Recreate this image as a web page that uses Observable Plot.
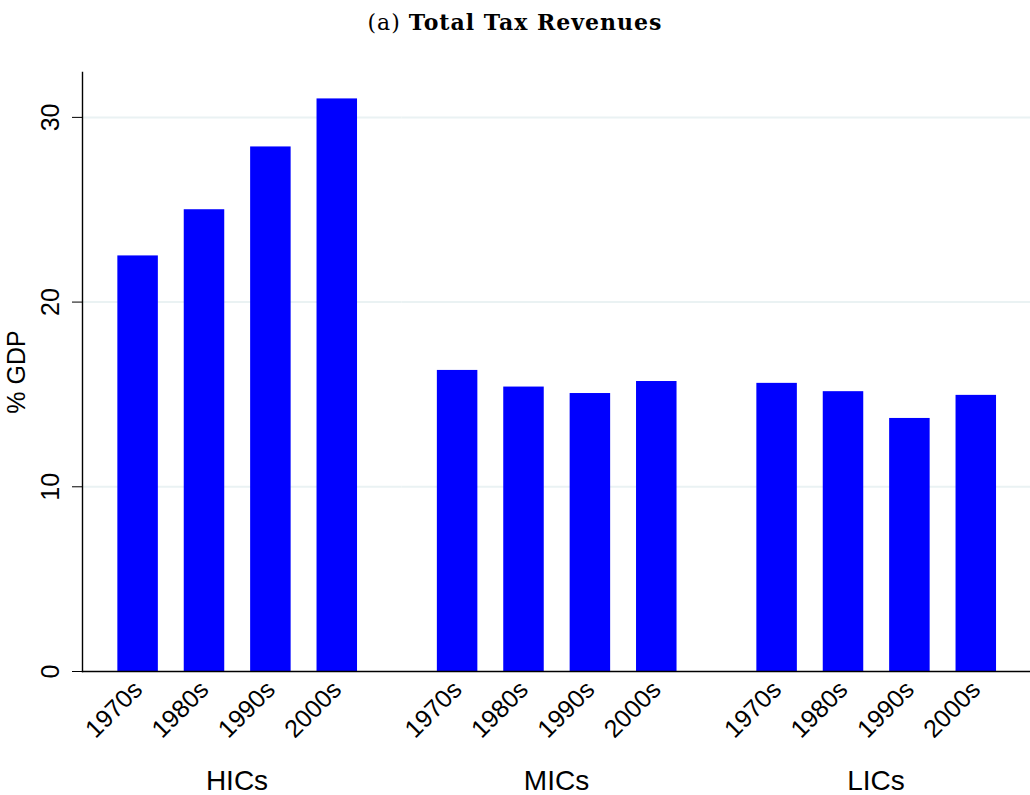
<!DOCTYPE html>
<html>
<head>
<meta charset="utf-8">
<script src="https://cdn.jsdelivr.net/npm/d3@7"></script>
<script src="https://cdn.jsdelivr.net/npm/@observablehq/plot@0.6"></script>
<style>
  html, body { margin: 0; padding: 0; background: #fff; overflow: hidden; }
  #title { height: 40px; line-height: 44px; text-align: center; font-family: "DejaVu Serif", serif; font-size: 22px; letter-spacing: 1px; color: #000; }
  #title b { font-weight: bold; }
  #chart svg { display: block; overflow: hidden; }
</style>
</head>
<body>
<div id="title">(a) <b>Total Tax Revenues</b></div>
<div id="chart"></div>
<script>
const groups = ["HICs", "MICs", "LICs"];
const decades = ["1970s", "1980s", "1990s", "2000s"];
const hicsValues = [22.5, 25.0, 28.4, 31.0];
const micsValues = [16.3, 15.4, 15.05, 15.7];
const licsValues = [15.6, 15.15, 13.7, 14.95];
const yTicks = [0, 10, 20, 30];
const yLabel = "% GDP";

const seriesByGroup = {HICs: hicsValues, MICs: micsValues, LICs: licsValues};
const data = groups.flatMap(g => decades.map((d, i) => ({group: g, decade: d, value: seriesByGroup[g][i]})));

const chart = Plot.plot({
  width: 1030,
  height: 755,
  marginTop: 32,
  marginBottom: 124,
  marginLeft: 82,
  marginRight: 0,
  style: {fontFamily: "'Liberation Sans', Arial, sans-serif", fontSize: "25px", color: "#000", background: "#fff"},
  fx: {domain: groups, paddingInner: 0.0329, paddingOuter: 0, round: false, label: null},
  x: {domain: decades, paddingInner: 0.39, paddingOuter: 0.522, align: 0.51, round: false, label: null},
  y: {domain: [0, 32.43], label: null},
  marks: [
    Plot.ruleY(yTicks.filter(d => d > 0), {stroke: "#eaf2f3", strokeWidth: 2, insetRight: -10.6}),
    Plot.barY(data, {fx: "group", x: "decade", y: "value", fill: "#0000ff"}),
    Plot.frame({anchor: "left", facet: "super", stroke: "#000", strokeWidth: 1.4}),
    Plot.frame({anchor: "bottom", facet: "super", stroke: "#000", strokeWidth: 1.4}),
    Plot.axisY({ticks: yTicks, tickSize: 10, tickPadding: 14, tickRotate: -90, tickFormat: d => String(d), label: yLabel, labelAnchor: "center", labelArrow: "none", labelOffset: 75, fontSize: 25}),
    Plot.axisX({tickRotate: -45, tickSize: 0, tickPadding: 14, fontSize: 25, label: null}),
    Plot.axisFx({anchor: "bottom", tickSize: 0, tickPadding: 99, fontSize: 28, label: null})
  ]
});
document.getElementById("chart").appendChild(chart);
</script>
</body>
</html>
